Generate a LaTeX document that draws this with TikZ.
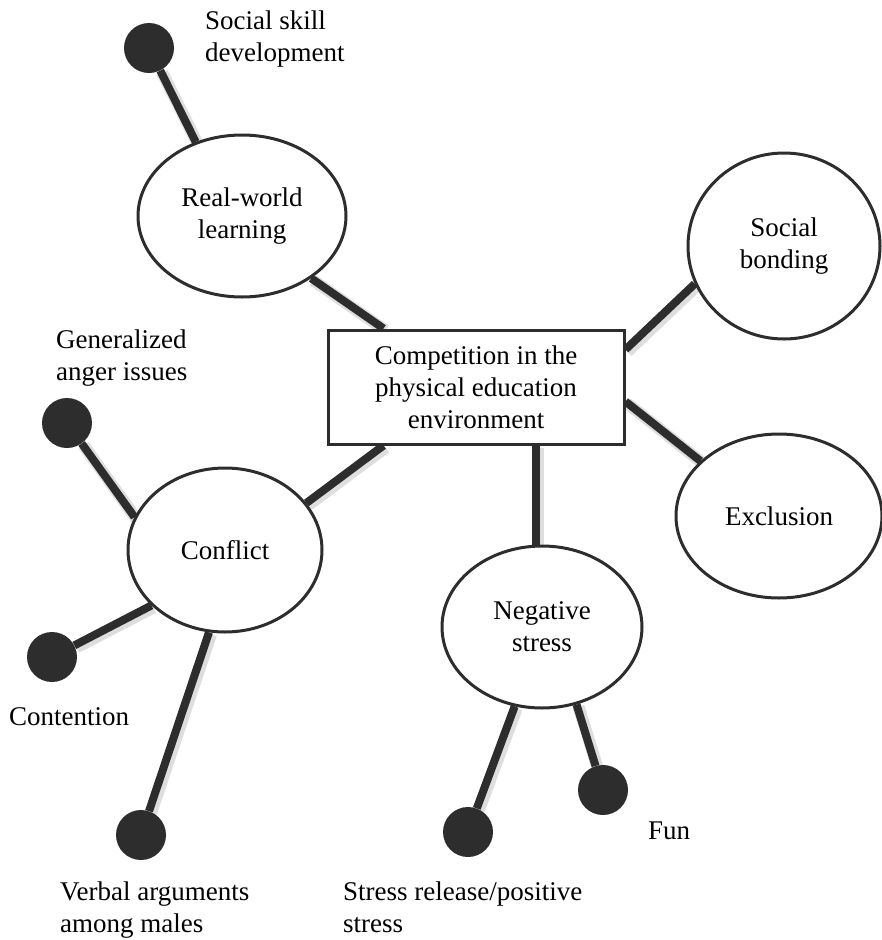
\documentclass[tikz,border=0pt]{standalone}
\usepackage{fontspec}
\setmainfont{Liberation Serif}
\usetikzlibrary{shapes.geometric,backgrounds}
\definecolor{ink}{HTML}{2D2D2D}
\begin{document}
\begin{tikzpicture}[x=1pt,y=-1pt,
  every node/.style={font=\fontsize{27}{32}\selectfont},
  bubble/.style={ellipse,draw=ink,line width=3pt,fill=white,inner sep=0pt,align=center},
  dot/.style={circle,fill=ink,minimum size=50pt,inner sep=0pt},
  lbl/.style={anchor=north west,inner sep=0pt,align=left},
  stem/.style={draw=ink,line width=8pt,
    preaction={draw=black!13,line width=12pt,transform canvas={shift={(2pt,-2pt)}}}}]
\useasboundingbox (0,0) rectangle (882,940);
% central box
\node[draw=ink,line width=3pt,fill=white,minimum width=296pt,minimum height=114pt,align=center,inner sep=0pt] (box) at (476,387) {Competition in the\\physical education\\environment};
% ellipses
\node[bubble,minimum width=208pt,minimum height=162pt] (rw) at (242,216) {Real-world\\learning};
\node[bubble,minimum width=192pt,minimum height=186pt] (sb) at (784,246) {Social\\bonding};
\node[bubble,minimum width=206pt,minimum height=164pt] (ex) at (779,516) {Exclusion};
\node[bubble,minimum width=194pt,minimum height=164pt] (cf) at (225,550) {Conflict};
\node[bubble,minimum width=200pt,minimum height=162pt] (ns) at (542,627) {Negative\\stress};
% dots
\node[dot] (ss) at (149,48) {};
\node[dot] (ga) at (67,423) {};
\node[dot] (ct) at (52,657) {};
\node[dot] (va) at (141,835) {};
\node[dot] (sr) at (468,832) {};
\node[dot] (fun) at (603,790) {};
% labels
\node[lbl] (ssl) at (205,11) {Social skill\\development};
\node[lbl] (gal) at (56,330) {Generalized\\anger issues};
\node[lbl] (ctl) at (9,707) {Contention};
\node[lbl] (val) at (60,882) {Verbal arguments\\among males};
\node[lbl] (srl) at (343,882) {Stress release/positive\\stress};
\node[lbl] (funl) at (648,822) {Fun};
% connectors
\begin{scope}[on background layer]
\draw[stem] (rw.-42) -- ([xshift=57pt]box.north west);
\draw[stem] ([yshift=-21pt]box.north east) -- (sb.-157);
\draw[stem] ([yshift=-73pt]box.north east) -- (ex.145);
\draw[stem] ([xshift=57pt]box.south west) -- (cf.30);
\draw[stem] ([xshift=60pt]box.south) -- ([xshift=-6pt]ns.north);
\draw[stem] (ss) -- (rw.122);
\draw[stem] (ga) -- (cf.160);
\draw[stem] (ct) -- (cf.-143);
\draw[stem] (va) -- (cf.-101);
\draw[stem] (sr) -- (ns.-109);
\draw[stem] (fun) -- (ns.-66);
\end{scope}
\end{tikzpicture}
\end{document}
